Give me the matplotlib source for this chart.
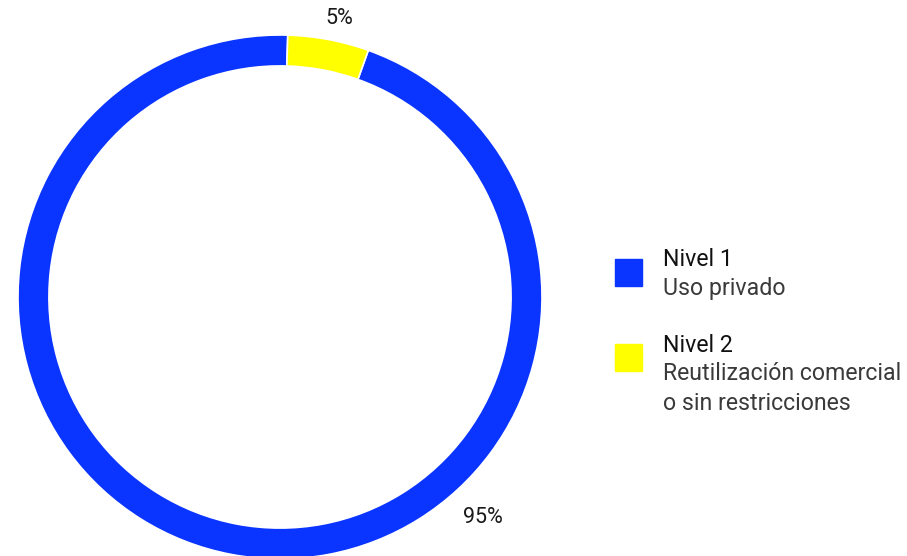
import matplotlib.pyplot as plt
import numpy as np

plt.rcParams['font.family'] = ['Roboto', 'DejaVu Sans']

# data
categorias = ["Nivel 1", "Nivel 2"]
descripciones = [["Uso privado"], ["Reutilización comercial", "o sin restricciones"]]
porcentajes = [95, 5]
colores = ["#0a34ff", "#ffff00"]

W, H = 907, 556
cx, cy, radio = 280, 297, 262  # pixel geometry of the ring

fig = plt.figure(figsize=(W / 100, H / 100), dpi=100)
ax = fig.add_axes([0, 0, 560 / W, 1])

ax.pie(porcentajes, colors=colores, startangle=88.3, counterclock=True,
       wedgeprops=dict(width=0.118, edgecolor="white", linewidth=1.2))
ax.set_xlim(-cx / radio, (560 - cx) / radio)
ax.set_ylim(-(H - cy) / radio, cy / radio)
ax.set_aspect("equal")
ax.axis("off")

# percentage labels placed just outside the ring
ang = [-47.3, 78.0]
dist = [1.143, 1.085]
for p, a, d in zip(porcentajes, ang, dist):
    ax.text(d * np.cos(np.radians(a)), d * np.sin(np.radians(a)), f"{p}%",
            ha="center", va="center", fontsize=15.5, color="#1a1a1a")

# legend drawn by hand
lx = 615 / W
ly = [272, 357]
sq = 27
paso = 29
for cat, desc, col, y in zip(categorias, descripciones, colores, ly):
    fig.patches.append(plt.Rectangle((lx, 1 - (y + sq / 2) / H), sq / W, sq / H,
                                     transform=fig.transFigure, color=col))
    fig.text(663 / W, 1 - (y - 12) / H, cat, fontsize=16.7, color="#111111",
             va="center", ha="left")
    for i, linea in enumerate(desc):
        fig.text(663 / W, 1 - (y - 12 + paso * (i + 1)) / H, linea,
                 fontsize=16.7, color="#3a3a3a", va="center", ha="left")

fig.savefig("out.png", dpi=100)
